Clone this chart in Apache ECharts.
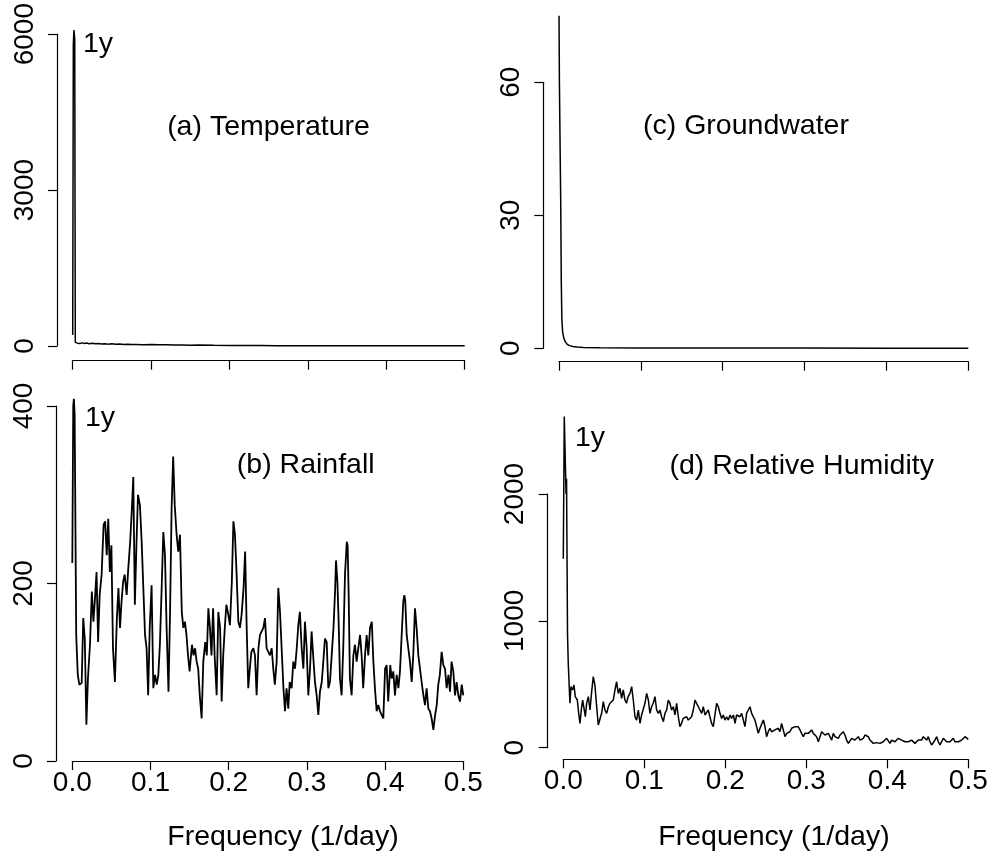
<!DOCTYPE html>
<html><head><meta charset="utf-8">
<script src="https://cdn.jsdelivr.net/npm/echarts@6/dist/echarts.min.js"></script>
<style>html,body{margin:0;padding:0;background:#fff}#c{width:1008px;height:861px}</style>
</head><body><div id="c"></div>
<script>
// ---- data (frequency in 1/day, spectral power) ----
const xTickValues = [0, 0.1, 0.2, 0.3, 0.4, 0.5];
const panelTitles = ['(a) Temperature', '(b) Rainfall', '(c) Groundwater', '(d) Relative Humidity'];
const xAxisTitle = 'Frequency (1/day)';
const peakLabel = '1y';

const temperature = [[0,210],[0.0008,5800],[0.0016,6080],[0.0026,5900],[0.0033,70],[0.006,55],[0.009,48],[0.012,60],[0.015,50],[0.018,56],[0.021,44],[0.025,52],[0.029,42],[0.033,48],[0.037,38],[0.041,45],[0.045,36],[0.05,42],[0.055,34],[0.06,38],[0.065,30],[0.07,34],[0.075,28],[0.08,31],[0.09,25],[0.1,28],[0.11,22],[0.12,24],[0.13,19],[0.14,21],[0.15,16],[0.16,18],[0.18,13],[0.2,12],[0.22,9],[0.24,8],[0.26,7],[0.28,6],[0.3,6],[0.33,5],[0.36,5],[0.4,4],[0.44,4],[0.48,3],[0.5,3]];

const rainfall = [[0,223],[0.0012,400],[0.002,408],[0.003,390],[0.005,142],[0.007,97],[0.009,86],[0.012,88],[0.014,161],[0.016,137],[0.018,41],[0.02,93],[0.0226,131],[0.025,191],[0.027,157],[0.029,183],[0.031,213],[0.033,134],[0.035,187],[0.0375,210],[0.04,266],[0.042,270],[0.044,232],[0.046,273],[0.048,213],[0.05,243],[0.052,127],[0.0545,89],[0.057,161],[0.059,195],[0.061,150],[0.063,180],[0.065,202],[0.067,210],[0.0695,187],[0.0716,217],[0.074,247],[0.076,281],[0.078,320],[0.08,176],[0.082,243],[0.084,300],[0.0865,288],[0.0887,247],[0.091,191],[0.093,142],[0.095,127],[0.097,74],[0.099,150],[0.1014,198],[0.1036,82],[0.1057,97],[0.108,86],[0.11,97],[0.112,131],[0.114,187],[0.1164,258],[0.1185,232],[0.1206,150],[0.123,78],[0.125,168],[0.127,285],[0.129,343],[0.131,288],[0.1334,255],[0.1355,236],[0.1377,255],[0.14,168],[0.142,150],[0.144,157],[0.146,142],[0.148,119],[0.15,101],[0.153,131],[0.155,119],[0.157,127],[0.159,112],[0.161,104],[0.163,74],[0.1654,48],[0.1675,112],[0.17,134],[0.172,119],[0.174,172],[0.176,150],[0.178,119],[0.18,172],[0.182,119],[0.1846,74],[0.1867,168],[0.189,150],[0.191,67],[0.193,119],[0.195,150],[0.197,176],[0.1995,165],[0.2016,153],[0.204,202],[0.206,270],[0.208,255],[0.21,213],[0.2123,157],[0.2144,150],[0.2165,165],[0.219,195],[0.221,236],[0.223,150],[0.225,82],[0.227,104],[0.229,123],[0.2315,127],[0.2336,119],[0.2357,74],[0.238,127],[0.24,142],[0.2443,150],[0.2464,161],[0.2485,127],[0.2528,119],[0.255,127],[0.257,104],[0.259,86],[0.2613,112],[0.2634,195],[0.2656,168],[0.2677,127],[0.27,82],[0.272,56],[0.274,82],[0.2762,59],[0.278,89],[0.2805,82],[0.2826,112],[0.2848,104],[0.287,127],[0.289,153],[0.291,168],[0.2933,127],[0.2955,104],[0.2975,157],[0.2997,127],[0.3018,74],[0.304,104],[0.306,146],[0.308,119],[0.3103,89],[0.3125,74],[0.3146,52],[0.3167,78],[0.319,89],[0.321,112],[0.3231,138],[0.3253,134],[0.3274,82],[0.3295,89],[0.3317,119],[0.334,150],[0.336,191],[0.3372,226],[0.339,202],[0.3406,157],[0.3423,93],[0.3444,74],[0.3466,131],[0.3487,210],[0.351,247],[0.3521,243],[0.3534,187],[0.355,93],[0.3572,74],[0.3594,119],[0.3615,131],[0.3636,112],[0.3657,127],[0.368,142],[0.37,119],[0.372,82],[0.3743,119],[0.3764,142],[0.3785,119],[0.3807,150],[0.383,157],[0.385,112],[0.387,82],[0.3892,56],[0.3913,63],[0.3935,56],[0.3956,52],[0.3977,48],[0.4,104],[0.402,108],[0.404,67],[0.4066,108],[0.4084,93],[0.4105,101],[0.4126,74],[0.4148,97],[0.417,82],[0.419,101],[0.4212,142],[0.4233,180],[0.4246,187],[0.4258,180],[0.4276,142],[0.4297,127],[0.4318,112],[0.434,89],[0.436,119],[0.4382,172],[0.4403,150],[0.4425,119],[0.4446,104],[0.4467,89],[0.449,74],[0.451,63],[0.4531,82],[0.4553,59],[0.4574,56],[0.4595,48],[0.4617,35],[0.464,52],[0.466,63],[0.468,86],[0.47,97],[0.4723,123],[0.4745,108],[0.4766,104],[0.4787,82],[0.481,97],[0.483,78],[0.485,112],[0.4872,101],[0.4894,74],[0.4915,89],[0.4936,74],[0.4957,67],[0.498,86],[0.5,74]];

const groundwater = [[0,75],[0.0005,60],[0.0013,46],[0.0021,33],[0.0028,15],[0.0035,6.5],[0.0045,3.6],[0.006,2.2],[0.008,1.4],[0.01,0.9],[0.013,0.6],[0.017,0.4],[0.022,0.3],[0.03,0.2],[0.05,0.12],[0.1,0.08],[0.2,0.05],[0.3,0.04],[0.4,0.03],[0.5,0.03]];

const humidity = [[0,1490],[0.0012,2610],[0.0034,2000],[0.004,2120],[0.0052,900],[0.0062,652],[0.0082,350],[0.0095,481],[0.0115,455],[0.0132,494],[0.0148,402],[0.0173,376],[0.019,271],[0.0206,192],[0.0222,297],[0.0239,376],[0.0255,389],[0.0272,244],[0.0288,349],[0.0309,402],[0.033,297],[0.035,441],[0.037,560],[0.039,494],[0.0412,323],[0.0432,179],[0.0453,166],[0.0473,271],[0.0494,363],[0.0514,297],[0.0535,271],[0.0556,323],[0.0576,350],[0.0597,363],[0.0617,376],[0.0638,455],[0.0658,520],[0.0679,428],[0.07,468],[0.072,389],[0.074,455],[0.0761,376],[0.078,350],[0.08,402],[0.0823,428],[0.0844,481],[0.0864,376],[0.0885,244],[0.0905,218],[0.0926,297],[0.0947,192],[0.0967,258],[0.0988,271],[0.1008,350],[0.1029,428],[0.105,376],[0.107,271],[0.109,323],[0.111,350],[0.1132,402],[0.1152,297],[0.1173,271],[0.1193,297],[0.1214,244],[0.1235,205],[0.1255,271],[0.1276,297],[0.1296,376],[0.1317,350],[0.1337,297],[0.1358,323],[0.1379,258],[0.1399,350],[0.142,244],[0.144,166],[0.146,192],[0.148,231],[0.15,218],[0.1523,244],[0.1543,218],[0.1564,218],[0.1584,244],[0.1605,297],[0.1626,376],[0.1646,350],[0.1667,323],[0.1687,297],[0.1708,271],[0.1728,323],[0.1749,258],[0.177,271],[0.179,297],[0.181,244],[0.1831,192],[0.1852,166],[0.1872,258],[0.1893,350],[0.1914,323],[0.1934,271],[0.1955,231],[0.1975,258],[0.1996,218],[0.2016,244],[0.2037,218],[0.2058,258],[0.2078,231],[0.21,258],[0.212,192],[0.214,258],[0.216,271],[0.218,244],[0.2202,271],[0.2222,218],[0.2243,166],[0.2263,271],[0.2284,297],[0.2305,323],[0.2325,271],[0.2346,244],[0.2366,218],[0.2387,166],[0.2407,113],[0.2428,153],[0.2449,140],[0.247,218],[0.249,166],[0.251,87],[0.253,126],[0.2551,153],[0.2572,126],[0.2593,140],[0.2613,140],[0.2634,126],[0.2654,153],[0.2675,126],[0.2695,192],[0.2716,140],[0.2737,87],[0.2757,113],[0.2778,100],[0.2798,126],[0.2819,153],[0.284,140],[0.286,166],[0.288,153],[0.29,166],[0.2922,140],[0.2942,113],[0.2963,87],[0.2984,113],[0.3004,126],[0.3025,113],[0.3045,126],[0.3066,140],[0.3086,113],[0.3107,126],[0.3128,87],[0.3148,47],[0.3169,60],[0.319,126],[0.321,140],[0.323,100],[0.3251,87],[0.3272,113],[0.3292,87],[0.3313,60],[0.3333,113],[0.3354,87],[0.3374,100],[0.3395,74],[0.3416,100],[0.3457,126],[0.3477,100],[0.3498,60],[0.3519,34],[0.3539,47],[0.356,74],[0.358,87],[0.36,60],[0.362,74],[0.3642,87],[0.3663,60],[0.3683,47],[0.3704,74],[0.3724,100],[0.3745,113],[0.3765,87],[0.3786,60],[0.3807,47],[0.3827,34],[0.3868,40],[0.391,34],[0.395,47],[0.3992,74],[0.4012,60],[0.4033,34],[0.4053,60],[0.4074,74],[0.4095,47],[0.4115,60],[0.4136,74],[0.4156,87],[0.4177,60],[0.4198,74],[0.4218,47],[0.4239,34],[0.426,47],[0.428,34],[0.43,60],[0.432,47],[0.4342,34],[0.4362,47],[0.4383,60],[0.4403,47],[0.4424,60],[0.4444,87],[0.4465,74],[0.4486,60],[0.4506,87],[0.4527,47],[0.4547,21],[0.4568,34],[0.4588,60],[0.461,87],[0.463,47],[0.465,21],[0.467,34],[0.4691,74],[0.4712,60],[0.4733,47],[0.4753,60],[0.4774,47],[0.4794,60],[0.4815,74],[0.4835,47],[0.4856,34],[0.4877,47],[0.4897,60],[0.4918,60],[0.4938,74],[0.4959,87],[0.498,74],[0.5,66]];

const yMax = [6000, 400, 60, 2000];
const yStep = [3000, 200, 30, 1000];

// ---- layout ----
const FONT = '"Liberation Sans", Arial, Helvetica, sans-serif';
const layout = [
  {grid:{left:72.7, top:20.5, width:392, height:325.5}, xOff:14.7, yOff:15.7, labels:false, lw:1.5},
  {grid:{left:72.3, top:406, width:391, height:355}, xOff:0, yOff:16.3, labels:true, lw:1.8},
  {grid:{left:559, top:82.3, width:409.3, height:266}, xOff:13.4, yOff:15.7, labels:false, lw:1.5},
  {grid:{left:563.3, top:494, width:405, height:253.7}, xOff:11.6, yOff:15.6, labels:true, lw:1.5}
];
const seriesData = [temperature, rainfall, groundwater, humidity];

const axisLineStyle = {color:'#000', width:1.2};
const option = {
  animation:false,
  backgroundColor:'#fff',
  grid: layout.map(l => l.grid),
  xAxis: layout.map((l,i) => ({
    type:'value', gridIndex:i, min:xTickValues[0], max:xTickValues[xTickValues.length-1], interval:0.1,
    offset:l.xOff,
    axisLine:{show:true, onZero:false, lineStyle:axisLineStyle},
    axisTick:{show:true, length:9, lineStyle:axisLineStyle},
    splitLine:{show:false},
    axisLabel:{show:l.labels, color:'#000', fontSize:28, fontFamily:FONT, margin:8,
      showMinLabel:true, showMaxLabel:true, formatter:v => v.toFixed(1)}
  })),
  yAxis: layout.map((l,i) => ({
    type:'value', gridIndex:i, min:0, max:yMax[i], interval:yStep[i],
    offset:l.yOff,
    axisLine:{show:true, onZero:false, lineStyle:axisLineStyle},
    axisTick:{show:true, length:9, lineStyle:axisLineStyle},
    splitLine:{show:false},
    axisLabel:{show:true, rotate:90, color:'#000', fontSize:28, fontFamily:FONT, margin:18,
      showMinLabel:true, showMaxLabel:true, formatter:v => String(Math.round(v))}
  })),
  series: seriesData.map((d,i) => ({
    type:'line', xAxisIndex:i, yAxisIndex:i, data:d, showSymbol:false, symbol:'none',
    clip:false, lineStyle:{color:'#000', width:layout[i].lw}
  })),
  graphic: []
};

function addText(txt, x, y, align) {
  option.graphic.push({
    type:'text', x:x, y:y, silent:true,
    style:{text:txt, fill:'#000', font:'28.5px ' + FONT,
      textAlign:align, textVerticalAlign:'middle', align:align, verticalAlign:'middle'}
  });
}
addText(panelTitles[0], 268.5, 127, 'center');
addText(panelTitles[1], 305.7, 465, 'center');
addText(panelTitles[2], 746, 126, 'center');
addText(panelTitles[3], 801.7, 465.7, 'center');
addText(peakLabel, 83, 44, 'left');
addText(peakLabel, 85, 417.7, 'left');
addText(peakLabel, 575, 438, 'left');
addText(xAxisTitle, 283, 836.7, 'center');
addText(xAxisTitle, 774, 836.7, 'center');

const chart = echarts.init(document.getElementById('c'), null, {renderer:'canvas'});
chart.setOption(option);
</script></body></html>
